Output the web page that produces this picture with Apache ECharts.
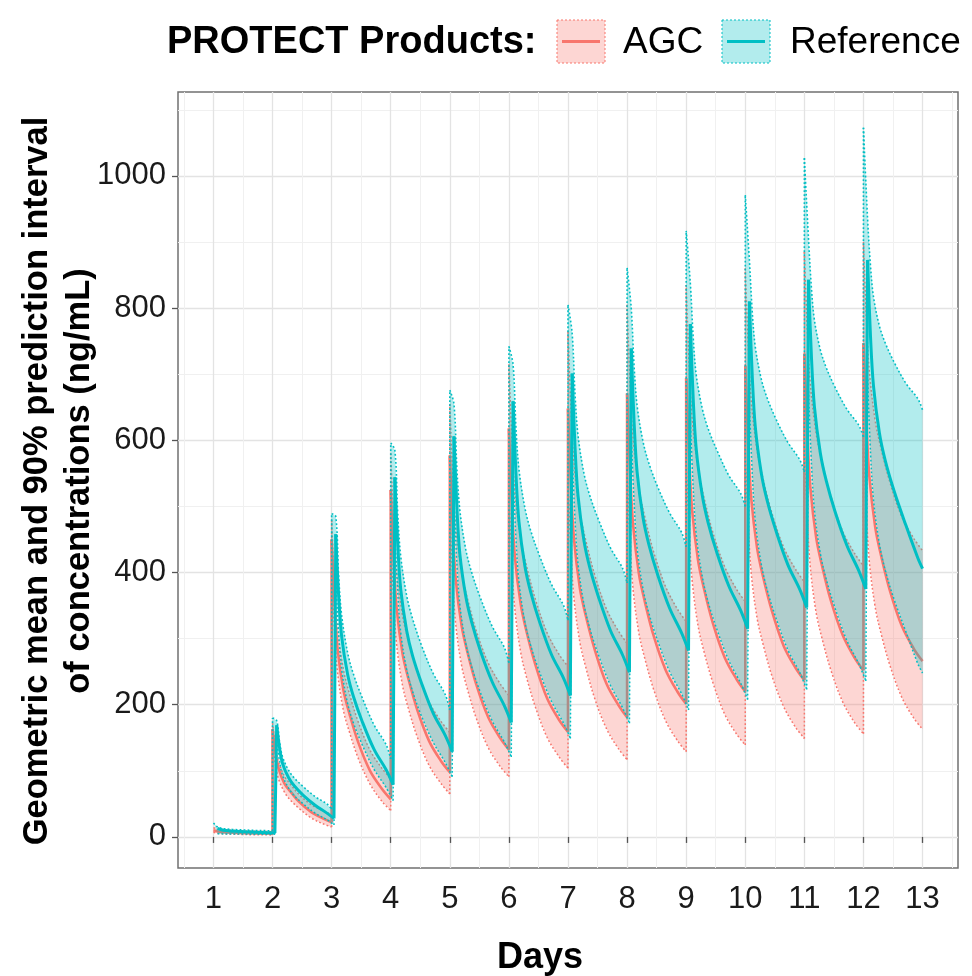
<!DOCTYPE html>
<html>
<head>
<meta charset="utf-8">
<script src="https://cdn.jsdelivr.net/npm/echarts@6/dist/echarts.min.js"></script>
<style>
  html, body { margin: 0; padding: 0; background: #ffffff; }
  #chart { width: 972px; height: 976px; }
</style>
</head>
<body>
<div id="chart"></div>
<script>
// Dosing days; each row of a series array covers one dosing interval.
const doseDays = [1, 2, 3, 4, 5, 6, 7, 8, 9, 10, 11, 12];
const lastDay = 13;

// Sampling times within an interval (days after the dose).
const agcOffsets = [0, 0.05, 0.1, 0.2, 0.3, 0.45, 0.65, 0.85, 1.0];
const refOffsets = [0.07, 0.12, 0.17, 0.27, 0.37, 0.52, 0.72, 0.92, 1.04];
const refUpperOffsets = [0, 0.07, 0.12, 0.17, 0.27, 0.37, 0.52, 0.72, 0.92, 1.0];

// AGC: geometric mean, 95th and 5th percentiles (ng/mL)
const agcMean = [
  [10, 8.8, 7.9, 7.1, 6.7, 6.1, 5.6, 5.2, 5],
  [163, 128, 104, 81, 69, 53, 38, 28, 22],
  [450, 352, 285, 222, 187, 143, 100, 73, 57],
  [525, 418, 346, 277, 239, 192, 145, 115, 98],
  [577, 466, 390, 319, 279, 230, 181, 150, 132],
  [618, 503, 425, 352, 310, 260, 209, 177, 159],
  [648, 531, 452, 377, 335, 284, 232, 200, 181],
  [671, 554, 474, 398, 356, 304, 253, 220, 201],
  [694, 576, 495, 419, 376, 324, 272, 239, 220],
  [713, 594, 513, 437, 394, 342, 289, 256, 237],
  [731, 611, 530, 453, 410, 357, 305, 271, 252],
  [747, 627, 545, 468, 425, 372, 319, 285, 266]
];
const agcUpper = [
  [14, 12.5, 11.5, 10.5, 10, 9.3, 8.7, 8.2, 8],
  [172, 138, 114, 92, 80, 64, 49, 40, 34],
  [480, 382, 315, 253, 217, 174, 131, 104, 88],
  [580, 475, 403, 335, 297, 251, 204, 175, 158],
  [655, 545, 470, 399, 360, 311, 263, 232, 214],
  [715, 601, 523, 450, 409, 359, 308, 276, 258],
  [765, 647, 567, 491, 449, 397, 345, 312, 293],
  [805, 685, 604, 527, 484, 431, 379, 345, 326],
  [835, 715, 634, 557, 514, 461, 409, 375, 356],
  [860, 742, 661, 585, 542, 490, 438, 405, 386],
  [885, 766, 686, 610, 567, 515, 462, 429, 410],
  [900, 783, 704, 629, 587, 536, 484, 452, 433]
];
const agcLower = [
  [7, 6, 5.3, 4.7, 4.3, 3.9, 3.4, 3.2, 3],
  [140, 109, 88, 68, 56, 43, 29, 20, 15],
  [400, 310, 249, 191, 159, 119, 80, 54, 40],
  [455, 358, 291, 229, 194, 151, 108, 81, 65],
  [490, 390, 322, 259, 223, 179, 135, 107, 91],
  [520, 416, 345, 279, 241, 196, 150, 121, 104],
  [540, 434, 362, 295, 257, 210, 164, 134, 117],
  [555, 449, 376, 308, 270, 223, 176, 146, 129],
  [570, 462, 389, 320, 281, 234, 186, 156, 139],
  [582, 474, 400, 331, 292, 244, 197, 166, 149],
  [592, 483, 409, 339, 300, 252, 204, 173, 156],
  [600, 491, 416, 347, 307, 259, 211, 180, 163]
];

// Reference: geometric mean, 95th and 5th percentiles (ng/mL)
const refMean = [
  [13, 11.3, 10.1, 9.1, 8.5, 7.8, 7, 6.4, 6],
  [169, 134, 111, 90, 77, 63, 48, 36, 28],
  [458, 363, 303, 246, 212, 174, 132, 102, 79],
  [544, 440, 374, 312, 274, 233, 187, 154, 129],
  [606, 498, 428, 364, 325, 281, 234, 199, 173],
  [659, 548, 477, 410, 370, 325, 276, 241, 214],
  [701, 588, 516, 448, 407, 362, 312, 276, 249],
  [739, 625, 552, 483, 442, 396, 346, 309, 282],
  [776, 661, 587, 518, 476, 430, 380, 343, 315],
  [810, 694, 620, 551, 509, 463, 412, 375, 347],
  [843, 726, 651, 581, 539, 492, 441, 403, 375],
  [873, 756, 682, 611, 569, 523, 471, 422, 406]
];
const refUpper = [
  [21, 15, 13.5, 12.5, 11.6, 11.1, 10.5, 9.8, 9.4, 9],
  [180, 176, 143, 121, 101, 89, 76, 61, 50, 42],
  [489, 485, 393, 335, 279, 246, 210, 169, 140, 118],
  [596, 585, 487, 424, 365, 330, 290, 247, 216, 192],
  [676, 655, 557, 494, 435, 400, 361, 318, 287, 263],
  [742, 715, 618, 556, 498, 463, 425, 382, 351, 328],
  [805, 762, 668, 607, 550, 516, 479, 437, 407, 384],
  [861, 800, 710, 652, 598, 565, 529, 490, 461, 439],
  [917, 838, 754, 699, 649, 618, 585, 547, 520, 500],
  [971, 872, 792, 741, 693, 664, 632, 597, 571, 552],
  [1027, 905, 830, 782, 737, 710, 680, 647, 623, 605],
  [1073, 935, 863, 817, 773, 747, 718, 686, 663, 646]
];
const refLower = [
  [5, 4.8, 4.6, 4.4, 4.4, 4.3, 4.1, 4.1, 4],
  [145, 113, 93, 74, 62, 50, 36, 26, 18],
  [390, 306, 253, 202, 172, 139, 102, 75, 55],
  [460, 368, 309, 253, 220, 183, 143, 113, 91],
  [510, 413, 351, 292, 257, 218, 175, 144, 121],
  [550, 450, 386, 325, 289, 249, 205, 173, 149],
  [580, 478, 413, 352, 315, 274, 229, 196, 172],
  [608, 504, 437, 375, 338, 296, 250, 217, 192],
  [632, 526, 458, 395, 356, 314, 267, 233, 208],
  [655, 547, 478, 413, 374, 331, 283, 249, 223],
  [675, 565, 495, 429, 390, 346, 297, 262, 236],
  [692, 581, 510, 443, 403, 359, 310, 262, 248]
];

// Axis breaks
const xTicks = [1, 2, 3, 4, 5, 6, 7, 8, 9, 10, 11, 12, 13];
const xMinorTicks = [0.5, 1.5, 2.5, 3.5, 4.5, 5.5, 6.5, 7.5, 8.5, 9.5, 10.5, 11.5, 12.5, 13.5];
const yTicks = [0, 200, 400, 600, 800, 1000];
const yMinorTicks = [100, 300, 500, 700, 900, 1100];

const AGC_COLOR = '#F8766D';
const REF_COLOR = '#00BFC4';
const AGC_FILL = 'rgba(248,118,109,0.30)';
const REF_FILL = 'rgba(0,191,196,0.30)';
const FONT = '"Liberation Sans", Arial, sans-serif';

function timeOf(i, off) {
  return Math.min(lastDay, +(doseDays[i] + off).toFixed(3));
}

// Continuous outline (used for the ribbons).
function toPoints(rows, offsets) {
  const pts = [];
  rows.forEach((row, i) => row.forEach((v, j) => pts.push([timeOf(i, offsets[j]), v])));
  return pts;
}

// One smooth run per dosing interval, broken between intervals.
function toSegments(rows, offsets) {
  const pts = [];
  rows.forEach((row, i) => {
    if (i > 0) pts.push(null);
    row.forEach((v, j) => pts.push([timeOf(i, offsets[j]), v]));
  });
  return pts;
}

// The rise at each dose: end of one interval to the start of the next.
function toJumps(rows, offsets) {
  const pts = [];
  const last = offsets.length - 1;
  for (let i = 1; i < rows.length; i++) {
    pts.push([timeOf(i - 1, offsets[last]), rows[i - 1][rows[i - 1].length - 1]]);
    pts.push([timeOf(i, offsets[0]), rows[i][0]]);
    pts.push(null);
  }
  return pts;
}

function bandSeries(upperRows, upperOff, lowerRows, lowerOff, fill, z) {
  const ring = toPoints(upperRows, upperOff).concat(toPoints(lowerRows, lowerOff).reverse());
  return {
    type: 'custom',
    z: z,
    silent: true,
    clip: true,
    data: [[ring[0][0], ring[0][1]]],
    renderItem: function (params, api) {
      return {
        type: 'polygon',
        shape: { points: ring.map(p => api.coord(p)) },
        style: { fill: fill }
      };
    }
  };
}

function lineStyleOf(color, width, dotted) {
  return { color: color, width: width, type: dotted ? [1.8, 2.2] : 'solid', cap: 'butt' };
}

function curveSeries(rows, offsets, color, width, dotted, z) {
  return [
    {
      type: 'line', z: z, data: toSegments(rows, offsets), showSymbol: false, silent: true,
      smooth: 0.35, connectNulls: false, clip: true,
      lineStyle: lineStyleOf(color, width, dotted)
    },
    {
      type: 'line', z: z, data: toJumps(rows, offsets), showSymbol: false, silent: true,
      connectNulls: false, clip: true,
      lineStyle: lineStyleOf(color, width, dotted)
    }
  ];
}

const chart = echarts.init(document.getElementById('chart'), null, { renderer: 'canvas' });

chart.setOption({
  animation: false,
  backgroundColor: '#ffffff',
  grid: {
    left: 178, right: 14, top: 92, bottom: 108,
    show: true, borderColor: '#707070', borderWidth: 1.5, backgroundColor: 'transparent'
  },
  xAxis: [
    {
      type: 'value', min: 0.4, max: 13.6,
      axisLine: { show: false },
      axisTick: { show: true, customValues: xTicks, length: 6, lineStyle: { color: '#555', width: 1.3 } },
      axisLabel: { customValues: xTicks, fontSize: 31, fontFamily: FONT, color: '#1a1a1a', margin: 16,
                   formatter: v => String(v) },
      splitLine: { show: true, lineStyle: { color: '#e3e3e3', width: 1.3 } }
    },
    {
      type: 'value', min: 0.4, max: 13.6, position: 'top',
      axisLine: { show: false },
      axisTick: { show: false, customValues: xMinorTicks },
      axisLabel: { show: false, customValues: xMinorTicks },
      splitLine: { show: true, lineStyle: { color: '#f0f0f0', width: 1 } }
    }
  ],
  yAxis: [
    {
      type: 'value', min: -47, max: 1127,
      axisLine: { show: false },
      axisTick: { show: true, customValues: yTicks, length: 6, lineStyle: { color: '#555', width: 1.3 } },
      axisLabel: { customValues: yTicks, fontSize: 31, fontFamily: FONT, color: '#1a1a1a', margin: 12,
                   formatter: v => String(v) },
      splitLine: { show: true, lineStyle: { color: '#e3e3e3', width: 1.3 } }
    },
    {
      type: 'value', min: -47, max: 1127, position: 'right',
      axisLine: { show: false },
      axisTick: { show: false, customValues: yMinorTicks },
      axisLabel: { show: false, customValues: yMinorTicks },
      splitLine: { show: true, lineStyle: { color: '#f0f0f0', width: 1 } }
    }
  ],
  series: [].concat(
    [bandSeries(agcUpper, agcOffsets, agcLower, agcOffsets, AGC_FILL, 1)],
    curveSeries(agcUpper, agcOffsets, AGC_COLOR, 1.5, true, 2),
    curveSeries(agcLower, agcOffsets, AGC_COLOR, 1.5, true, 2),
    curveSeries(agcMean, agcOffsets, AGC_COLOR, 2.6, false, 2),
    [bandSeries(refUpper, refUpperOffsets, refLower, refOffsets, REF_FILL, 3)],
    curveSeries(refUpper, refUpperOffsets, REF_COLOR, 1.6, true, 4),
    curveSeries(refLower, refOffsets, REF_COLOR, 1.5, true, 4),
    curveSeries(refMean, refOffsets, REF_COLOR, 3, false, 4)
  ),
  graphic: [
    // legend
    { type: 'text', left: 167, top: 24, style: { text: 'PROTECT Products:', font: 'bold 38px ' + FONT, fill: '#000' } },
    { type: 'rect', shape: { x: 557, y: 20, width: 48, height: 43 }, style: { fill: AGC_FILL, stroke: AGC_COLOR, lineWidth: 1, lineDash: [2, 2] } },
    { type: 'line', shape: { x1: 562, y1: 41.5, x2: 600, y2: 41.5 }, style: { stroke: AGC_COLOR, lineWidth: 3 } },
    { type: 'text', x: 623, y: 43, style: { text: 'AGC', font: '37px ' + FONT, fill: '#000', textVerticalAlign: 'middle' } },
    { type: 'rect', shape: { x: 722, y: 20, width: 48, height: 43 }, style: { fill: REF_FILL, stroke: REF_COLOR, lineWidth: 1, lineDash: [2, 2] } },
    { type: 'line', shape: { x1: 727, y1: 41.5, x2: 765, y2: 41.5 }, style: { stroke: REF_COLOR, lineWidth: 3 } },
    { type: 'text', x: 790, y: 43, style: { text: 'Reference', font: '37px ' + FONT, fill: '#000', textVerticalAlign: 'middle' } },
    // axis titles
    { type: 'text', x: 37, y: 481, rotation: Math.PI / 2, style: { text: 'Geometric mean and 90% prediction interval', font: 'bold 34.5px ' + FONT, fill: '#000', textAlign: 'center', textVerticalAlign: 'middle' } },
    { type: 'text', x: 79, y: 481, rotation: Math.PI / 2, style: { text: 'of concentrations (ng/mL)', font: 'bold 34.5px ' + FONT, fill: '#000', textAlign: 'center', textVerticalAlign: 'middle' } },
    { type: 'text', x: 540, y: 958, style: { text: 'Days', font: 'bold 36px ' + FONT, fill: '#000', textAlign: 'center', textVerticalAlign: 'middle' } }
  ]
});
</script>
</body>
</html>
